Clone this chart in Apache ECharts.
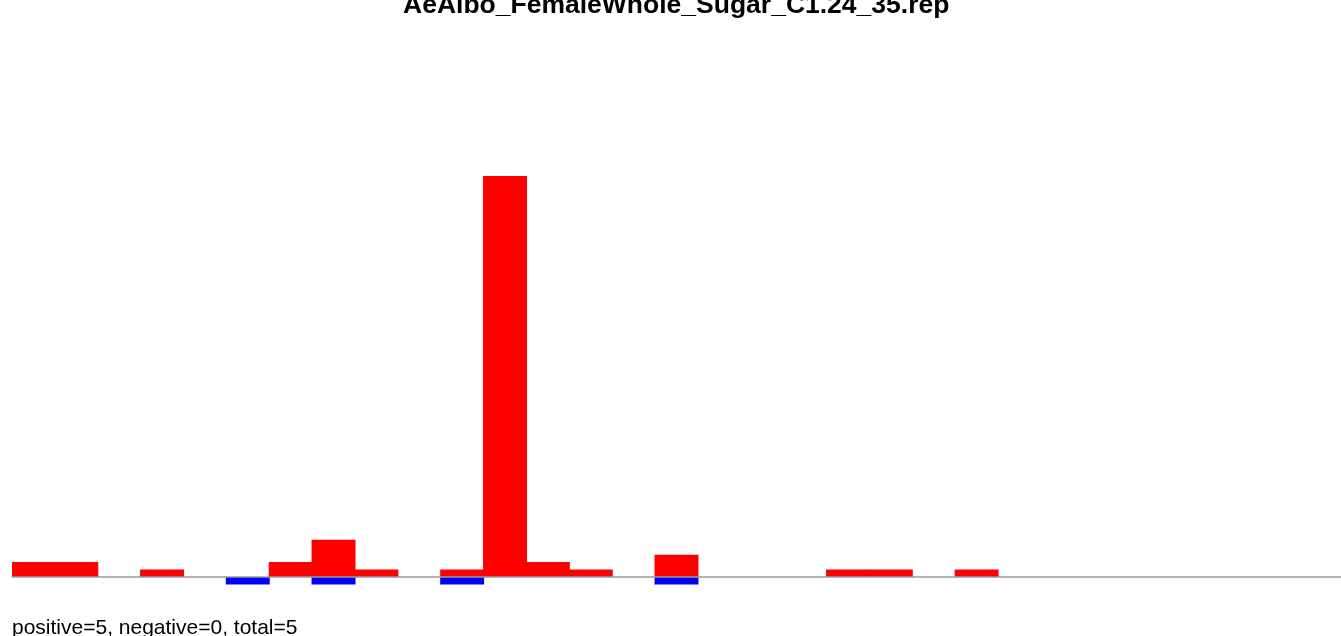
<!DOCTYPE html>
<html>
<head>
<meta charset="utf-8">
<script src="https://cdn.jsdelivr.net/npm/echarts@6/dist/echarts.min.js"></script>
<style>
html,body{margin:0;padding:0;background:#fff;}
#c{width:1341px;height:636px;}
</style>
</head>
<body>
<div id="c"></div>
<script>
var titleText = "AeAlbo_FemaleWhole_Sugar_C1.24_35.rep";
var footerText = "positive=5, negative=0, total=5";
var categories = [];
for (var i = 1; i <= 31; i++) categories.push(String(i));
var positiveValues = [2,2,0,1,0,0,2,5,1,0,1,54,2,1,0,3,0,0,0,1,1,0,1,0,0,0,0,0,0,0,0];
var negativeValues = [0,0,0,0,0,-1,0,-1,0,0,-1,0,0,0,0,-1,0,0,0,0,0,0,0,0,0,0,0,0,0,0,0];

function nonZero(arr){ return arr.map(function(v){ return v === 0 ? '-' : v; }); }

var chart = echarts.init(document.getElementById('c'), null, {renderer:'canvas'});
chart.setOption({
  animation:false,
  backgroundColor:'#ffffff',
  title:[
    {text:titleText, left:398, top:-13,
     textStyle:{fontFamily:'Liberation Sans, Arial, sans-serif', fontWeight:'bold', fontSize:26.5, color:'#000'}},
    {text:footerText, left:7, top:613,
     textStyle:{fontFamily:'Liberation Sans, Arial, sans-serif', fontWeight:'normal', fontSize:21, color:'#000'}}
  ],
  grid:{left:12, top:176, width:1330, bottom:51.6, containLabel:false},
  xAxis:{type:'category', data:categories, boundaryGap:true, z:10,
    axisLine:{show:true, onZero:true, lineStyle:{color:'#9a9a9a', width:1.5}},
    axisTick:{show:false}, axisLabel:{show:false}, splitLine:{show:false}},
  yAxis:{type:'value', min:-1, max:54, show:false, splitLine:{show:false}},
  series:[
    {type:'bar', data:nonZero(positiveValues), barWidth:'102.5%', barGap:'-100%',
     itemStyle:{color:'#ff0000', borderWidth:0}},
    {type:'bar', data:nonZero(negativeValues), barWidth:'102.5%', barGap:'-100%',
     itemStyle:{color:'#0000ff', borderWidth:0}}
  ]
});
</script>
</body>
</html>
